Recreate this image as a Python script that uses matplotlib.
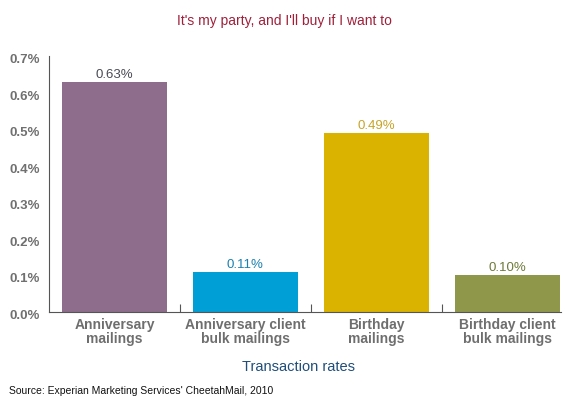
import matplotlib.pyplot as plt
import matplotlib.transforms as mtransforms

categories = ['Anniversary\nmailings', 'Anniversary client\nbulk mailings',
              'Birthday\nmailings', 'Birthday client\nbulk mailings']
rates = [0.63, 0.11, 0.49, 0.10]
rate_labels = ['0.63%', '0.11%', '0.49%', '0.10%']
bar_colors = ['#8e6d8c', '#00a0d6', '#d9b300', '#8f984a']
label_colors = ['#4a4a55', '#1b80b0', '#c7a428', '#6e7a38']
yticks = [0.0, 0.1, 0.2, 0.3, 0.4, 0.5, 0.6, 0.7]

sans = ['Liberation Sans', 'DejaVu Sans']

fig = plt.figure(figsize=(5.73, 4.03), dpi=100)
ax = fig.add_axes([0.0855, 0.2258, 0.8935, 0.635])

x = range(len(categories))
ax.bar(x, rates, width=0.8, color=bar_colors)

for i, (v, lab) in enumerate(zip(rates, rate_labels)):
    ax.text(i, v + 0.003, lab, ha='center', va='bottom', fontsize=9.5,
            color=label_colors[i], family=sans)

ax.set_xlim(-0.5, 3.41)
ax.set_ylim(0, 0.7)

# y tick labels sit a little below their gridline value, as in the original
ax.set_yticks(yticks)
ax.set_yticklabels([])
ax.tick_params(axis='y', length=0)
shift = mtransforms.ScaledTranslation(-9 / 100, -4 / 100, fig.dpi_scale_trans)
for v in yticks:
    ax.text(0, v, f'{v:.1f}%', transform=ax.get_yaxis_transform() + shift,
            ha='right', va='center', fontsize=9.5, fontweight='bold',
            color='#707070', family=sans)

# category labels and tick marks between bars
ax.set_xticks([0.5, 1.5, 2.5])
ax.set_xticklabels([])
ax.tick_params(axis='x', direction='in', length=6, color='#555555')
ax.set_xticks(list(x), minor=True)
ax.set_xticklabels(categories, minor=True, fontsize=10, fontweight='bold',
                   color='#6e6e6e', family=sans, linespacing=1.0)
ax.tick_params(axis='x', which='minor', length=0, pad=4)

for s in ['top', 'right']:
    ax.spines[s].set_visible(False)
for s in ['left', 'bottom']:
    ax.spines[s].set_color('#555555')

ax.set_xlabel('Transaction rates', fontsize=10.5, color='#1f4e7a',
              family=sans, labelpad=10.5, x=0.488)

fig.text(0.497, 0.948, "It's my party, and I'll buy if I want to", ha='center',
         va='center', fontsize=10, color='#a0203a', family=sans)
fig.text(0.016, 0.03, "Source: Experian Marketing Services' CheetahMail, 2010",
         ha='left', va='center', fontsize=7.5, color='#111111', family=sans)

fig.savefig('out.png', dpi=100)
